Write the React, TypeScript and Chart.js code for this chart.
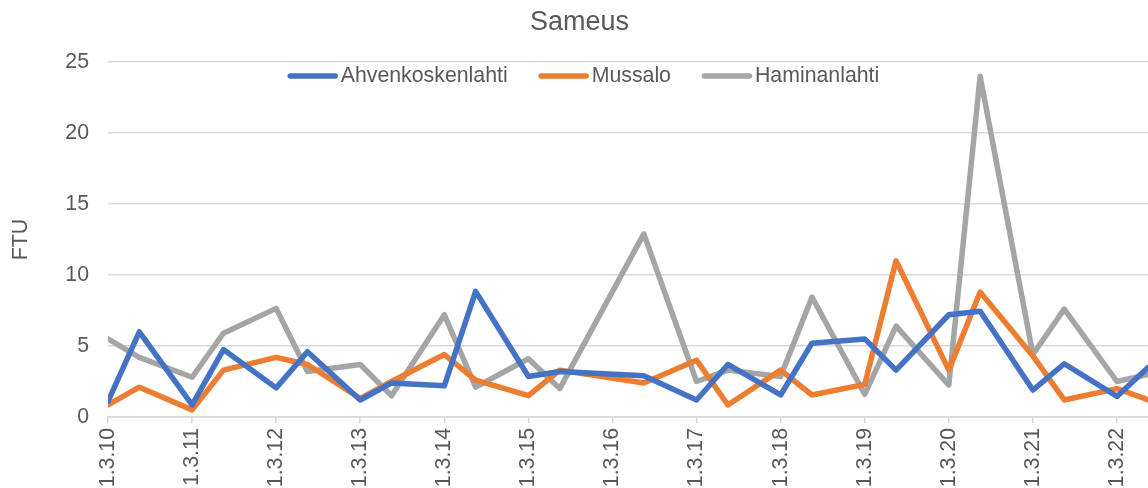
import React, { useEffect, useRef } from "react";
import { Chart, registerables } from "chart.js";

Chart.register(...registerables);

// Sampling dates (d.m.yyyy)
const sampleDates = [
  "1.3.2010", "15.7.2010", "1.3.2011", "15.7.2011", "1.3.2012", "15.7.2012",
  "1.3.2013", "15.7.2013", "1.3.2014", "15.7.2014", "1.3.2015", "15.7.2015",
  "15.7.2016", "1.3.2017", "15.7.2017", "1.3.2018", "15.7.2018", "1.3.2019",
  "15.7.2019", "1.3.2020", "15.7.2020", "1.3.2021", "15.7.2021", "1.3.2022",
  "15.7.2022",
];

const ahvenkoskenlahti = [
  1.1, 6.0, 0.85, 4.75, 2.05, 4.6, 1.2, 2.4, 2.2, 8.85, 2.85, 3.2, 2.9, 1.2,
  3.7, 1.55, 5.2, 5.5, 3.3, 7.2, 7.45, 1.9, 3.75, 1.45, 3.5,
];
const mussalo = [
  0.85, 2.1, 0.5, 3.3, 4.2, 3.7, 1.3, 2.5, 4.4, 2.6, 1.5, 3.3, 2.4, 4.0, 0.85,
  3.3, 1.55, 2.3, 11.0, 3.3, 8.8, 4.3, 1.2, 2.0, 1.2,
];
const haminanlahti = [
  5.5, 4.2, 2.8, 5.9, 7.65, 3.2, 3.7, 1.5, 7.2, 2.1, 4.1, 2.0, 12.9, 2.5, 3.3,
  2.85, 8.45, 1.6, 6.4, 2.25, 24.0, 4.4, 7.6, 2.5, 3.0,
];

const seriesNames = ["Ahvenkoskenlahti", "Mussalo", "Haminanlahti"];
const seriesColors = ["#4472C4", "#ED7D31", "#A5A5A5"];

const xTickYears = [2010, 2011, 2012, 2013, 2014, 2015, 2016, 2017, 2018, 2019, 2020, 2021, 2022];
const xTickLabels = [
  "1.3.10", "1.3.11", "1.3.12", "1.3.13", "1.3.14", "1.3.15", "1.3.16",
  "1.3.17", "1.3.18", "1.3.19", "1.3.20", "1.3.21", "1.3.22",
];
const yTicks = [0, 5, 10, 15, 20, 25];

const FONT = "'Liberation Sans', Arial, sans-serif";
const TEXT = "#595959";
const GRID = "#d9d9d9";

function toYear(s: string): number {
  const [d, m, y] = s.split(".").map(Number);
  return y + (Date.UTC(y, m - 1, d) - Date.UTC(y, 2, 1)) / (365 * 864e5);
}

const inlineLegend = {
  id: "inlineLegend",
  afterDraw(chart: any) {
    const ctx = chart.ctx as CanvasRenderingContext2D;
    ctx.save();
    ctx.font = `21.3px ${FONT}`;
    const swatch = 50;
    const gap = 3;
    const spacing = 31;
    const items = chart.data.datasets.map((ds: any) => ({
      label: ds.label as string,
      color: ds.borderColor as string,
      w: ctx.measureText(ds.label).width,
    }));
    const total =
      items.reduce((s: number, it: any) => s + swatch + gap + it.w, 0) +
      spacing * (items.length - 1);
    let x = chart.width / 2 + 2.5 - total / 2;
    const y = 76;
    ctx.textBaseline = "middle";
    ctx.textAlign = "left";
    for (const it of items) {
      ctx.strokeStyle = it.color;
      ctx.lineWidth = 5.5;
      ctx.lineCap = "round";
      ctx.beginPath();
      ctx.moveTo(x + 2.5, y);
      ctx.lineTo(x + swatch - 2.5, y);
      ctx.stroke();
      ctx.fillStyle = TEXT;
      ctx.fillText(it.label, x + swatch + gap, y);
      x += swatch + gap + it.w + spacing;
    }
    ctx.restore();
  },
};

export default function App() {
  const ref = useRef<HTMLCanvasElement | null>(null);

  useEffect(() => {
    if (!ref.current) return;
    const xs = sampleDates.map(toYear);
    const series = [ahvenkoskenlahti, mussalo, haminanlahti];
    const chart = new Chart(ref.current, {
      type: "line",
      data: {
        datasets: series.map((vals, i) => ({
          label: seriesNames[i],
          data: vals.map((v, j) => ({ x: xs[j], y: v })),
          borderColor: seriesColors[i],
          backgroundColor: seriesColors[i],
          borderWidth: 5.5,
          pointRadius: 0,
          tension: 0,
          borderJoinStyle: "round" as const,
          borderCapStyle: "round" as const,
        })),
      },
      options: {
        animation: false,
        responsive: false,
        layout: { padding: { left: 0, right: 3, top: 0, bottom: 0 } },
        plugins: {
          legend: { display: false },
          tooltip: { enabled: false },
          title: {
            display: true,
            text: "Sameus",
            color: TEXT,
            font: { family: FONT, size: 27, weight: "normal" },
            padding: { top: 6, bottom: 23.6 },
          },
        },
        scales: {
          x: {
            type: "linear",
            min: 2010,
            max: 2022.5,
            afterBuildTicks: (scale: any) => {
              scale.ticks = xTickYears.map((v) => ({ value: v }));
            },
            afterFit: (scale: any) => {
              scale.height = 83;
            },
            ticks: {
              autoSkip: false,
              includeBounds: false,
              minRotation: 90,
              maxRotation: 90,
              padding: 5,
              color: TEXT,
              font: { family: FONT, size: 21.3 },
              callback: (v: any) => {
                const i = xTickYears.indexOf(Math.round(Number(v)));
                return i >= 0 ? xTickLabels[i] : "";
              },
            },
            grid: {
              drawOnChartArea: false,
              drawTicks: true,
              tickLength: 6,
              color: GRID,
              lineWidth: 1.5,
            },
            border: { display: true, color: GRID, width: 1.5 },
          },
          y: {
            min: 0,
            max: 25,
            afterBuildTicks: (scale: any) => {
              scale.ticks = yTicks.map((v) => ({ value: v }));
            },
            afterFit: (scale: any) => {
              scale.width = 108;
            },
            ticks: {
              padding: 19,
              color: TEXT,
              font: { family: FONT, size: 21.3 },
            },
            grid: { drawTicks: false, color: GRID, lineWidth: 1.5 },
            border: { display: false },
            title: {
              display: true,
              text: "FTU",
              color: TEXT,
              font: { family: FONT, size: 21.3 },
              padding: { top: 8, bottom: 0 },
            },
          },
        },
      },
      plugins: [inlineLegend],
    });
    return () => chart.destroy();
  }, []);

  return (
    <div
      style={{
        position: "fixed",
        left: 0,
        top: 0,
        width: 1148,
        height: 488,
        overflow: "hidden",
        background: "#ffffff",
      }}
    >
      <canvas ref={ref} width={1162} height={500} style={{ display: "block" }} />
    </div>
  );
}
